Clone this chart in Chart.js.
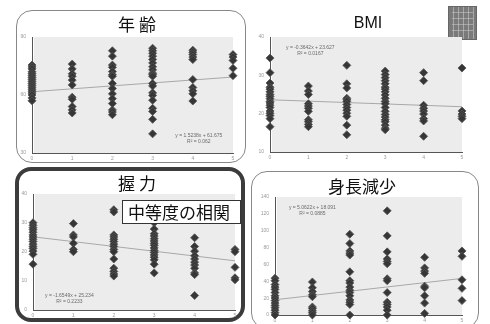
<!DOCTYPE html>
<html><head><meta charset="utf-8">
<script src="https://cdn.jsdelivr.net/npm/chart.js@4"></script>
<style>
html,body{margin:0;padding:0;background:#fff;width:490px;height:324px;overflow:hidden;position:relative;font-family:"Noto Sans CJK JP","Noto Sans",sans-serif;}
.box{position:absolute;box-sizing:border-box;border-radius:16px;}
.title{position:absolute;transform:translate(-50%,-50%);white-space:nowrap;color:#111;line-height:1;}
canvas{position:absolute;}
#stamp{position:absolute;left:448px;top:6px;width:29px;height:34px;box-sizing:border-box;border:1px solid #666;
  background:repeating-linear-gradient(90deg,#7a7a7a 0 4px,#a8a8a8 4px 5px),#7a7a7a;}
#stamp:after{content:"";position:absolute;left:3px;top:3px;right:3px;bottom:3px;
  background:repeating-linear-gradient(0deg,transparent 0 5px,rgba(200,200,200,.55) 5px 6px);}
#callout{position:absolute;left:122px;top:200px;width:119px;height:24px;box-sizing:border-box;border:1.5px solid #333;background:#fff;
  font-size:17px;line-height:21px;padding-left:5px;color:#111;white-space:nowrap;}
</style></head><body>

<div class="box" style="left:16px;top:10px;width:230px;height:153px;border:1.5px solid #888;"></div>
<div class="box" style="left:15px;top:167px;width:230px;height:155px;border:4px solid #3c3c3c;"></div>
<div class="box" style="left:251px;top:171px;width:228px;height:158px;border:1.5px solid #888;"></div>
<div id="stamp"></div>

<canvas id="cAge" width="226" height="136" style="left:14px;top:28px"></canvas>
<canvas id="cBmi" width="226" height="136" style="left:250px;top:28px"></canvas>
<canvas id="cGrip" width="228" height="134" style="left:14px;top:185px"></canvas>
<canvas id="cHeight" width="224" height="136" style="left:252px;top:188px"></canvas>

<div class="title" style="left:137px;top:23px;font-size:17px;">年 齢</div>
<div class="title" style="left:368px;top:23px;font-size:16px;font-family:'Liberation Sans',Arial,sans-serif;">BMI</div>
<div class="title" style="left:137px;top:182px;font-size:17px;">握 力</div>
<div class="title" style="left:362px;top:185px;font-size:17px;">身長減少</div>
<div id="callout">中等度の相関</div>

<script>
// x categories shared by all four panels
const xTicks = [0, 1, 2, 3, 4, 5];

// 年齢 values per x category
const ageValues = [
  [75.5, 74.5, 73.5, 72, 71, 70, 69, 68, 67, 66, 65, 64, 63, 62, 61, 60, 58.5, 57],
  [76, 73.5, 71, 69.7, 67.7, 65.2, 58.9, 57.8, 54, 52.3, 50.7],
  [82.9, 80.1, 75.5, 74.3, 72.1, 70.5, 69.7, 66, 63.4, 60.6, 58.1, 55.6, 52.3, 51.2, 49.8],
  [84.2, 82.9, 81.6, 80.1, 78.4, 76.6, 74.6, 73, 71.3, 70.5, 69.7, 66, 64.7, 61.1, 59.8, 57.3, 53.1, 51.5, 47.4, 39.9],
  [83.2, 82.1, 80.9, 79.6, 78.3, 68, 63.9, 62.2, 60.6, 56.9],
  [80.9, 79.6, 77.9, 73.8, 70]
];

// BMI values per x category
const bmiValues = [
  [34.5, 30.7, 28, 26.9, 26.4, 25.7, 25, 24.5, 23.9, 23.2, 22.8, 22.2, 21.6, 20.7, 20.1, 19.5, 18.7, 16.6],
  [27.2, 25.9, 25, 22.6, 22, 21.4, 20.6, 18.4, 17.9, 17.2, 16.6],
  [32.6, 27.8, 26.7, 24, 23.6, 23.2, 22.4, 21.6, 20.9, 20.1, 19.3, 17, 14.5],
  [31.1, 30.2, 29.4, 28.6, 27.8, 26.9, 26.4, 25.7, 24.9, 24, 23.2, 22.6, 21.6, 20.6, 19.8, 19.1, 18.4, 17.9, 17, 16.2, 15.8],
  [30.7, 28.6, 22.2, 21.4, 20.7, 19.9, 18.7, 18.1, 14.1],
  [31.9, 20.7, 19.9, 19.3, 18.7]
];

// 握力 values per x category
const gripValues = [
  [30.1, 29.2, 28.4, 27.7, 26.8, 25.9, 25.2, 24.4, 23.6, 22.7, 21.9, 21.2, 20.3, 19.2, 15.8],
  [29.8, 25.9, 25.2, 23, 20.9, 20.1],
  [34.6, 33.8, 25.9, 25.2, 24.4, 23.6, 22.7, 21.9, 20.9, 20.1, 17.6, 14.4, 13.3, 12.4, 11.7],
  [33.5, 31.7, 30.1, 27.9, 26.3, 25.5, 24.6, 23.8, 23, 22.3, 21.4, 20.5, 19.8, 19, 18.2, 17.3, 15.8, 12.8],
  [24.9, 21.9, 20.3, 18.7, 17.6, 16.5, 15.5, 14.4, 12.8, 12.2, 5],
  [20.9, 20.1, 14.7, 11.1, 10.4]
];

// 身長減少 values per x category
const heightValues = [
  [43.7, 40.7, 36.1, 33.1, 30.4, 26.6, 22.8, 20.2, 17.1, 14.1, 11.4, 8.7, 5.7, 2.7, 0],
  [39.2, 32.3, 27.8, 24, 21.7, 9.5, 7.6, 4.9, 2.7, 0],
  [95.8, 84.8, 76, 73.4, 71.1, 51.3, 40.7, 38, 33.1, 29.3, 26.6, 22.8, 17.9, 15.2, 12.5, 0],
  [123.6, 93.9, 74.9, 66.5, 63.5, 60.8, 43, 40.7, 26.6, 15.2, 12.5, 9.5, 5.7, 0],
  [68.4, 55.9, 52.1, 49.4, 34.2, 32.3, 22.8, 14.1, 1.9],
  [76, 69.6, 41.8, 31.6, 17.1]
];

// linear trend lines as stated in each panel's equation label
const trendSlopes = [1.5238, -0.3642, -1.6549, 5.0622];
const trendIntercepts = [61.675, 23.627, 25.234, 18.091];
const r2Labels = ['0.062', '0.0167', '0.2233', '0.0885'];

// y axis ranges: [min, max, step]
const yRanges = [[30, 90, 30], [10, 40, 10], [0, 40, 10], [0, 140, 20]];

const plotBg = {
  id: 'plotBg',
  beforeDraw(chart) {
    const a = chart.chartArea, c = chart.ctx;
    c.save(); c.fillStyle = '#ececec';
    c.fillRect(a.left + 2, a.top, a.right - a.left - 2, a.bottom - a.top);
    c.restore();
  }
};

const eqLabel = {
  id: 'eqLabel',
  afterDatasetsDraw(chart, args, opts) {
    const a = chart.chartArea, c = chart.ctx;
    const cx = a.left + (a.right - a.left) * opts.fx;
    const y1 = a.top + (a.bottom - a.top) * opts.fy;
    c.save();
    c.fillStyle = '#6a6a6a';
    c.font = '5px "Liberation Sans", Arial, sans-serif';
    c.textAlign = 'center'; c.textBaseline = 'middle';
    c.fillText(opts.line1, cx, y1);
    c.fillText(opts.line2, cx, y1 + 6);
    c.restore();
  }
};

function fmtEq(k) {
  const s = trendSlopes[k];
  return 'y = ' + (s < 0 ? '-' : '') + Math.abs(s) + 'x + ' + trendIntercepts[k];
}

function makePanel(id, k, values, lay, eq) {
  const pts = values.flatMap((col, i) => col.map(v => ({ x: xTicks[i], y: v })));
  const x0 = xTicks[0], x1 = xTicks[xTicks.length - 1];
  const trend = [
    { x: x0, y: trendIntercepts[k] + trendSlopes[k] * x0 },
    { x: x1, y: trendIntercepts[k] + trendSlopes[k] * x1 }
  ];
  const [yMin, yMax, yStep] = yRanges[k];
  const tickFont = { size: 5, family: '"Liberation Sans", Arial, sans-serif' };
  new Chart(document.getElementById(id), {
    type: 'scatter',
    data: {
      datasets: [
        { type: 'line', data: trend, borderColor: '#a8a8a8', borderWidth: 1, pointRadius: 0, fill: false, order: 2 },
        { data: pts, pointStyle: 'rectRot', pointRadius: 4, backgroundColor: '#363636',
          borderColor: '#555', borderWidth: 0.8, order: 1, clip: false }
      ]
    },
    options: {
      responsive: false, animation: false, devicePixelRatio: 1,
      layout: { padding: { left: lay.l, right: lay.r, top: lay.t, bottom: lay.b } },
      plugins: {
        legend: { display: false }, tooltip: { enabled: false },
        eqLabel: { line1: fmtEq(k), line2: 'R² = ' + r2Labels[k], fx: eq[0], fy: eq[1] }
      },
      scales: {
        x: {
          type: 'linear', min: x0, max: x1,
          afterFit: s => { s.height = lay.xh; },
          afterBuildTicks: s => { s.ticks = xTicks.map(v => ({ value: v })); },
          grid: { display: false, drawTicks: false },
          border: { display: true, color: '#555', width: 1 },
          ticks: { font: tickFont, color: '#9a9a9a', padding: 3 }
        },
        y: {
          min: yMin, max: yMax,
          afterFit: s => { s.width = lay.yw; },
          grid: { display: false, drawTicks: false },
          border: { display: true, color: '#555', width: 1 },
          ticks: { stepSize: yStep, font: tickFont, color: '#9a9a9a', padding: 6 }
        }
      }
    },
    plugins: [plotBg, eqLabel]
  });
}

makePanel('cAge', 0, ageValues, { l: 0, r: 7, t: 4, b: 2, yw: 18, xh: 9 }, [0.83, 0.85]);
makePanel('cBmi', 1, bmiValues, { l: 0, r: 14, t: 4, b: 3, yw: 20, xh: 9 }, [0.21, 0.09]);
makePanel('cGrip', 2, gripValues, { l: 0, r: 7, t: 4, b: 1, yw: 19, xh: 8 }, [0.18, 0.88]);
makePanel('cHeight', 3, heightValues, { l: 0, r: 14, t: 4, b: 1, yw: 23, xh: 8 }, [0.2, 0.09]);
</script>
</body></html>
